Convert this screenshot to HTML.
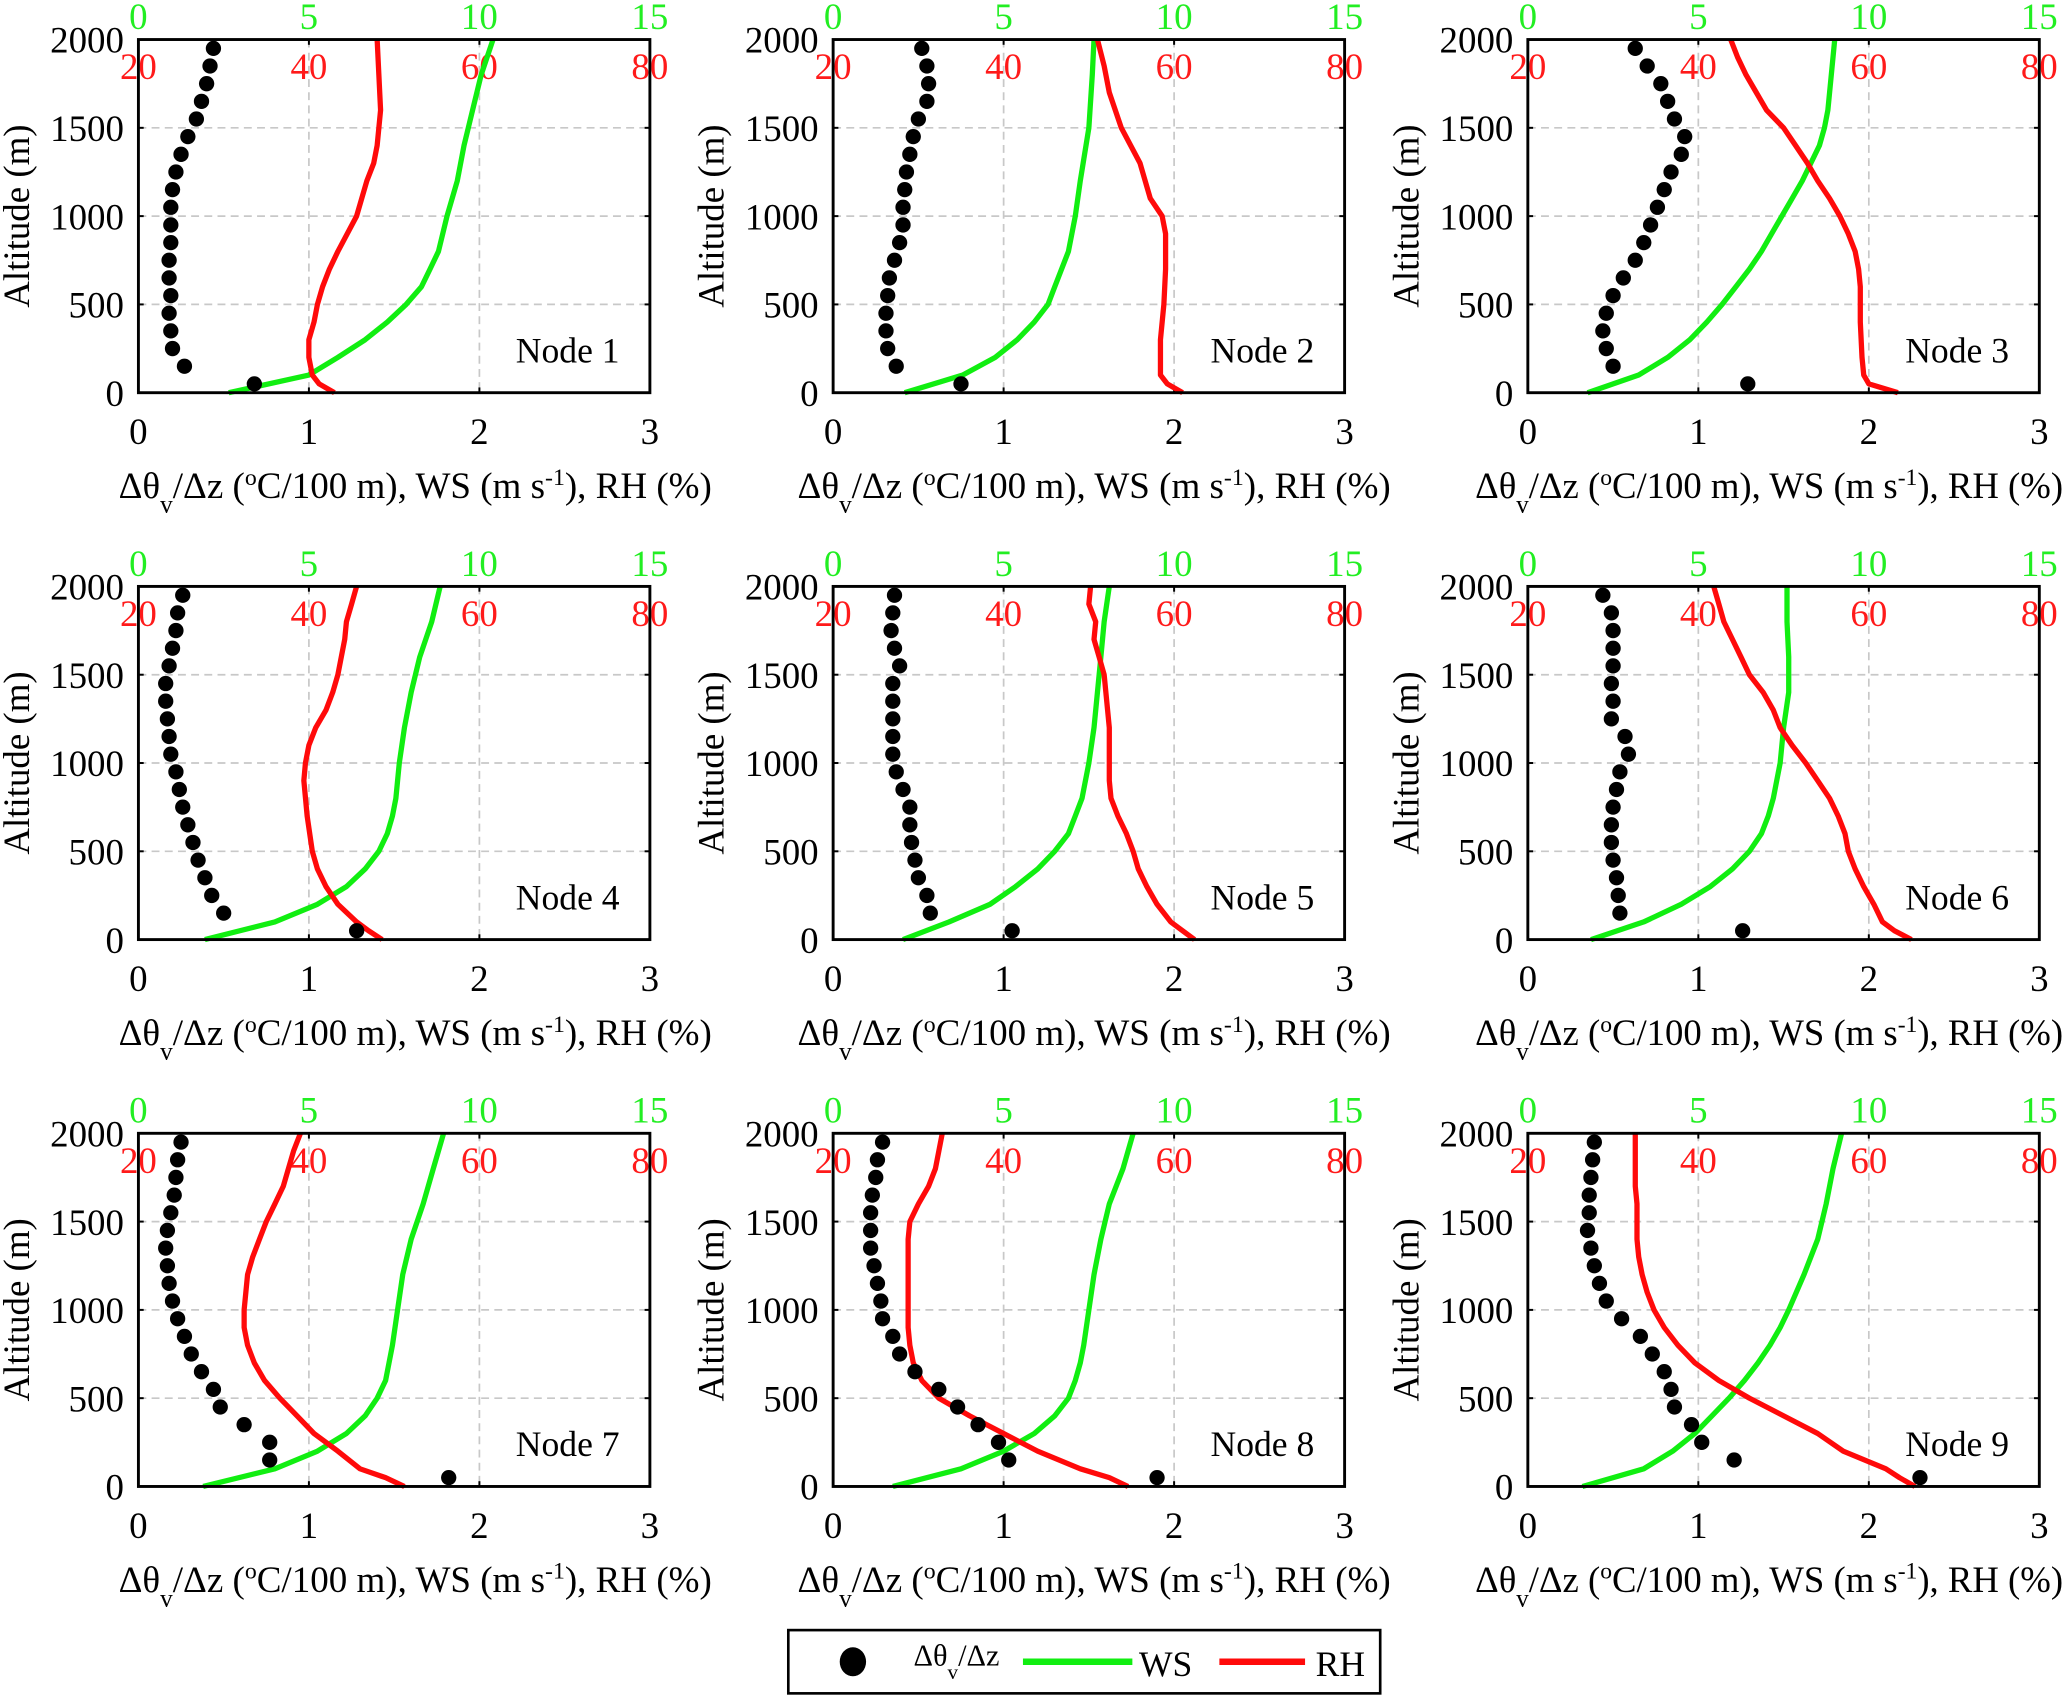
<!DOCTYPE html>
<html><head><meta charset="utf-8"><style>
html,body{margin:0;padding:0;background:#fff;}
svg{display:block;font-family:"Liberation Serif",serif;}
</style></head><body>
<svg id="fig" width="2067" height="1696" viewBox="0 0 1568 1287" preserveAspectRatio="none" xmlns="http://www.w3.org/2000/svg"></svg>
<script>
const dotAlt=[50,150,250,350,450,550,650,750,850,950,1050,1150,1250,1350,1450,1550,1650,1750,1850,1950];
const altA=[0,100,200,300,400,500,600,700,800,1000,1200,1400,1600,1800,2000];
const altFull=[0,50,100,200,300,400,500,600,700,800,900,1000,1100,1200,1300,1400,1500,1600,1700,1800,1900,2000];
const dots1=[0.68,0.27,0.20,0.19,0.18,0.19,0.18,0.18,0.19,0.19,0.19,0.20,0.22,0.25,0.29,0.34,0.37,0.40,0.42,0.44];
const dots2=[0.75,0.37,0.32,0.31,0.31,0.32,0.33,0.36,0.39,0.41,0.41,0.42,0.43,0.45,0.47,0.50,0.55,0.56,0.55,0.52];
const dots3=[1.29,0.50,0.46,0.44,0.46,0.50,0.56,0.63,0.68,0.72,0.76,0.80,0.84,0.90,0.92,0.86,0.82,0.78,0.70,0.63];
const dots4=[1.28,0.50,0.43,0.39,0.35,0.32,0.29,0.26,0.24,0.22,0.19,0.18,0.17,0.16,0.16,0.18,0.20,0.22,0.23,0.26];
const dots5=[1.05,0.57,0.55,0.50,0.48,0.46,0.45,0.45,0.41,0.37,0.35,0.35,0.35,0.35,0.35,0.39,0.36,0.34,0.35,0.36];
const dots6=[1.26,0.54,0.53,0.52,0.50,0.49,0.49,0.50,0.52,0.54,0.59,0.57,0.49,0.50,0.49,0.50,0.50,0.50,0.49,0.44];
const dots7=[1.82,0.77,0.77,0.62,0.48,0.44,0.37,0.31,0.27,0.23,0.20,0.18,0.17,0.16,0.17,0.19,0.21,0.22,0.23,0.25];
const dots8=[1.90,1.03,0.97,0.85,0.73,0.62,0.48,0.39,0.35,0.29,0.28,0.26,0.24,0.22,0.22,0.22,0.23,0.25,0.26,0.29];
const dots9=[2.30,1.21,1.02,0.96,0.86,0.84,0.80,0.73,0.66,0.55,0.46,0.42,0.39,0.37,0.35,0.36,0.36,0.37,0.38,0.39];
const wsAlt1=[0,100,200,300,400,500,600,700,800,1000,1200,1400,1600,1800,2000];
const ws1=[2.65,5.0,5.85,6.65,7.3,7.85,8.3,8.55,8.8,9.05,9.35,9.55,9.8,10.05,10.4];
const rhAlt1=[0,50,100,200,300,400,500,600,700,800,1000,1200,1300,1400,1600,1800,2000];
const rh1=[43,41.2,40.4,40,40,40.6,41,41.6,42.4,43.4,45.6,46.8,47.6,48,48.4,48.2,48];
const wsAlt2=[0,100,200,300,400,500,600,800,1000,1200,1500,1800,2000];
const ws2=[2.1,3.8,4.75,5.4,5.9,6.3,6.5,6.9,7.1,7.25,7.5,7.6,7.65];
const rhAlt2=[0,50,100,300,500,700,900,1000,1100,1300,1500,1700,1850,2000];
const rh2=[61,59.2,58.4,58.4,58.8,59,59,58.6,57.2,56,53.8,52.4,51.8,51];
const wsAlt3=[0,100,200,300,400,500,600,700,800,900,1000,1100,1200,1300,1400,1500,1600,1800,2000];
const ws3=[1.75,3.25,4.1,4.75,5.25,5.7,6.1,6.5,6.85,7.15,7.45,7.75,8.05,8.3,8.55,8.7,8.8,8.9,9.0];
const rhAlt3=[0,50,100,200,400,600,700,800,900,1000,1100,1200,1300,1400,1500,1600,1700,1800,1900,2000];
const rh3=[63.4,60,59.4,59.2,59,59,58.8,58.4,57.6,56.6,55.4,54,52.8,51.4,50,48,46.8,45.6,44.6,43.8];
const ws4=[1.95,4,5.25,6.1,6.65,7.05,7.3,7.45,7.55,7.65,7.8,8,8.25,8.6,8.85];
const rhAlt4=[0,50,100,200,300,400,500,700,900,1000,1100,1200,1300,1400,1500,1600,1700,1800,1900,2000];
const rh4=[48.6,47,45.6,43.4,42,41,40.4,39.8,39.4,39.6,40,40.8,42,42.8,43.4,43.8,44.2,44.4,45,45.6];
const ws5=[2.05,3.4,4.6,5.35,6,6.5,6.9,7.1,7.3,7.5,7.65,7.75,7.85,7.95,8.1];
const rhAlt5=[0,50,100,200,300,400,500,600,700,800,900,1000,1200,1300,1400,1500,1600,1700,1800,1900,2000];
const rh5=[62.4,61,59.6,58,56.8,55.8,55.2,54.4,53.4,52.6,52.4,52.4,52.4,52.2,52,51.8,51.2,50.6,50.8,50,50.2];
const ws6=[1.85,3.4,4.5,5.35,6,6.5,6.85,7.05,7.2,7.4,7.5,7.65,7.65,7.6,7.6];
const rh6=[65,63,61.6,60.6,59.4,58.4,57.6,57.2,56.4,55.4,54,52.6,51,49.6,48.8,47.6,46,45,44,43,42.4,41.8];
const ws7=[1.9,4,5.25,6.1,6.65,7,7.25,7.35,7.45,7.6,7.75,8,8.35,8.65,8.95];
const rh7=[51.2,49,46,43.4,40.6,38.6,36.6,34.8,33.6,32.8,32.4,32.4,32.6,32.8,33.4,34.2,35,36,37,37.6,38.2,39];
const ws8=[1.75,3.75,5,5.9,6.5,6.9,7.1,7.25,7.35,7.5,7.65,7.85,8.1,8.5,8.8];
const rh8=[54.6,52.4,49,44,40,36,32.4,30.4,29.4,29,28.8,28.8,28.8,28.8,28.8,28.8,29,30,31.2,32,32.4,32.8];
const wsAlt9=[0,100,200,300,400,500,600,700,800,900,1000,1200,1400,1600,1800,2000];
const ws9=[1.6,3.4,4.25,4.9,5.4,5.9,6.35,6.75,7.1,7.4,7.65,8.1,8.5,8.75,8.95,9.2];
const rh9=[65.4,63.6,62,57,54,50,46,42.4,39.6,37.6,36,34.8,34,33.4,33,32.8,32.8,32.8,32.6,32.6,32.6,32.6];
const xTicks=[0,1,2,3];
const yTicks=[0,500,1000,1500,2000];
const wsTicks=[0,5,10,15];
const rhTicks=[20,40,60,80];

const panels=[
 {n:1,d:dots1,wa:wsAlt1,w:ws1,ra:rhAlt1,r:rh1},
 {n:2,d:dots2,wa:wsAlt2,w:ws2,ra:rhAlt2,r:rh2},
 {n:3,d:dots3,wa:wsAlt3,w:ws3,ra:rhAlt3,r:rh3},
 {n:4,d:dots4,wa:altA,w:ws4,ra:rhAlt4,r:rh4},
 {n:5,d:dots5,wa:altA,w:ws5,ra:rhAlt5,r:rh5},
 {n:6,d:dots6,wa:altA,w:ws6,ra:altFull,r:rh6},
 {n:7,d:dots7,wa:altA,w:ws7,ra:altFull,r:rh7},
 {n:8,d:dots8,wa:altA,w:ws8,ra:altFull,r:rh8},
 {n:9,d:dots9,wa:wsAlt9,w:ws9,ra:altFull,r:rh9}
];
const NS="http://www.w3.org/2000/svg";
const svg=document.getElementById('fig');
function mk(tag,attrs,parent,txt){const e=document.createElementNS(NS,tag);for(const k in attrs)e.setAttribute(k,attrs[k]);if(txt!==undefined)e.textContent=txt;(parent||svg).appendChild(e);return e;}
const colX=[105,632,1159],rowY=[30,445,860],W=388,H=268;
const titleX=[90,605,1119],titleW=[450,450,446];
panels.forEach((p,i)=>{
 const c=i%3;
 const L=colX[c],T=rowY[Math.floor(i/3)],B=T+H;
 const g=mk('g',{});
 
 
 const sx=u=>L+u/3*W, sy=a=>B-a/2000*H;
 const xWS=v=>sx(v/5), xRH=v=>sx((v-20)/20);
 [1,2].forEach(u=>{const l=mk('line',{x1:sx(u),x2:sx(u),y1:T,y2:B,stroke:'#c8c8c8','stroke-width':1.3,'stroke-dasharray':'6 4'},g);});
 [500,1000,1500].forEach(a=>{const l=mk('line',{x1:L,x2:L+W,y1:sy(a),y2:sy(a),stroke:'#c8c8c8','stroke-width':1.3,'stroke-dasharray':'6 4'},g);});
 xTicks.forEach(t=>{mk('line',{x1:sx(t),x2:sx(t),y1:B,y2:B-4,stroke:'#000','stroke-width':1.5},g);mk('line',{x1:sx(t),x2:sx(t),y1:T,y2:T+4,stroke:'#000','stroke-width':1.5},g);
  const tx=mk('text',{x:sx(t),y:B+39,'font-size':28,'text-anchor':'middle'},g,t);});
 yTicks.forEach(t=>{mk('line',{x1:L,x2:L+4,y1:sy(t),y2:sy(t),stroke:'#000','stroke-width':1.5},g);mk('line',{x1:L+W,x2:L+W-4,y1:sy(t),y2:sy(t),stroke:'#000','stroke-width':1.5},g);
  const tx=mk('text',{x:L-11,y:sy(t)+10,'font-size':28,'text-anchor':'end'},g,t);});
 wsTicks.forEach(t=>{const tx=mk('text',{x:xWS(t),y:T-8,'font-size':28,'text-anchor':'middle',fill:'#22ee22'},g,t);});
 rhTicks.forEach(t=>{const tx=mk('text',{x:xRH(t),y:T+30,'font-size':28,'text-anchor':'middle',fill:'#ff1a1a'},g,t);});
 const wsPts=p.w.map((v,k)=>xWS(v).toFixed(1)+','+sy(p.wa[k]).toFixed(1)).join(' ');
 const wl=mk('polyline',{points:wsPts,fill:'none',stroke:'#11ee11','stroke-width':4,'stroke-linejoin':'round'},g);
 
 
 const rhPts=p.r.map((v,k)=>xRH(v).toFixed(1)+','+sy(p.ra[k]).toFixed(1)).join(' ');
 const rl=mk('polyline',{points:rhPts,fill:'none',stroke:'#ff0a0a','stroke-width':4,'stroke-linejoin':'round'},g);
 
 
 p.d.forEach((v,k)=>{const cc=mk('circle',{cx:sx(v),cy:sy(dotAlt[k]),r:5.8,fill:'#000'},g);
  
  });
 const fr=mk('rect',{x:L,y:T,width:W,height:H,fill:'none',stroke:'#000','stroke-width':2.2},g);
 
 
 const nl=mk('text',{x:L+W-23,y:B-23,'font-size':27,'text-anchor':'end'},g,'Node '+p.n);
 
 
 const yl=mk('text',{x:0,y:0,'font-size':28,'text-anchor':'middle',transform:`translate(${L-83},${T+H/2}) rotate(-90)`},g,'Altitude (m)');
 
 
 const xl=mk('text',{x:titleX[c],y:B+80,'font-size':28,textLength:titleW[c],lengthAdjust:'spacingAndGlyphs'},g);
 
 
 xl.innerHTML='Δθ<tspan dy="11" font-size="19">v</tspan><tspan dy="-11">/Δz (</tspan><tspan dy="-10" font-size="18">o</tspan><tspan dy="10">C/100 m), WS (m s</tspan><tspan dy="-10" font-size="18">-1</tspan><tspan dy="10">), RH (%)</tspan>';
});
const lg=mk('g',{});


mk('rect',{x:598,y:1237,width:449,height:48,fill:'#fff',stroke:'#000','stroke-width':2},lg);
const ld=mk('ellipse',{cx:647,cy:1261,rx:10,ry:11,fill:'#000'},lg);


const lt=mk('text',{x:693,y:1264,'font-size':23},lg);


lt.innerHTML='Δθ<tspan dy="10" font-size="16">v</tspan><tspan dy="-10">/Δz</tspan>';
const lw=mk('line',{x1:776,x2:859,y1:1261,y2:1261,stroke:'#11ee11','stroke-width':5},lg);


const lwt=mk('text',{x:864,y:1272,'font-size':27},lg,'WS');


const lr=mk('line',{x1:925,x2:990,y1:1261,y2:1261,stroke:'#ff0a0a','stroke-width':5},lg);


const lrt=mk('text',{x:998,y:1272,'font-size':27},lg,'RH');


</script>
</body></html>
